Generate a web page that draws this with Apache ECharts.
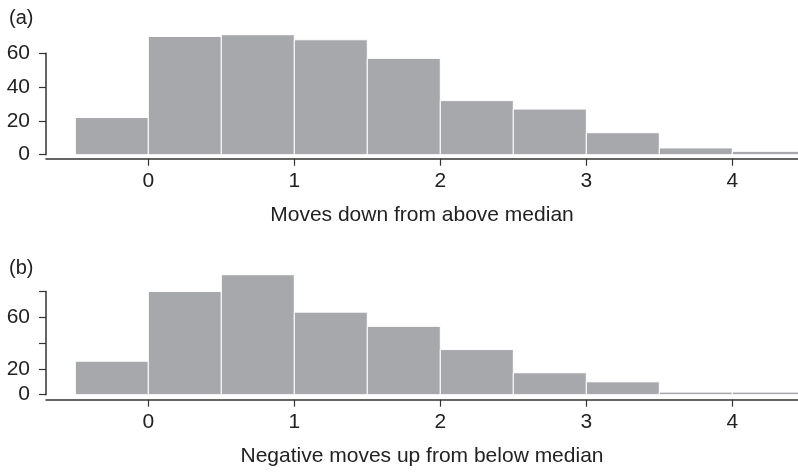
<!DOCTYPE html>
<html>
<head>
<meta charset="utf-8">
<script src="https://cdn.jsdelivr.net/npm/echarts@6/dist/echarts.min.js"></script>
<style>
  html, body { margin: 0; padding: 0; background: #fff; }
  #chart { width: 798px; height: 472px; }
</style>
</head>
<body>
<div id="chart"></div>
<script>
// histogram bins (left edges), width 0.5
const binStarts = [-0.5, 0, 0.5, 1, 1.5, 2, 2.5, 3, 3.5, 4];
const binWidth = 0.5;
// (a) moves down from above median
const countsA = [22, 70, 71, 68, 57, 32, 27, 13, 4, 2];
// (b) negative moves up from below median
const countsB = [26, 80, 93, 64, 53, 35, 17, 10, 2, 2];
const xTicks = [0, 1, 2, 3, 4];
const yLabelsA = [0, 20, 40, 60];
const yLabelsB = [0, 20, 60];

const FONT = "Liberation Sans, Arial, sans-serif";
const AXIS_COLOR = "#333";
const TEXT_COLOR = "#222";

const chart = echarts.init(document.getElementById("chart"));

function renderBin(params, api) {
  const x0 = api.value(0);
  const y = api.value(1);
  const p0 = api.coord([x0, y]);
  const p1 = api.coord([x0 + binWidth, 0]);
  return {
    type: "rect",
    shape: { x: p0[0], y: p0[1], width: p1[0] - p0[0], height: p1[1] - p0[1] },
    style: { fill: "#a7a8ac", stroke: "#ffffff", lineWidth: 1 },
  };
}

function xAxisFor(gridIndex, offset, name) {
  return {
    type: "value",
    gridIndex,
    min: -0.7007,
    max: 4.45,
    offset,
    splitLine: { show: false },
    axisLine: { show: true, onZero: false, lineStyle: { color: AXIS_COLOR, width: 1.5 } },
    axisTick: { show: true, customValues: xTicks, length: 7, lineStyle: { color: AXIS_COLOR, width: 1.2 } },
    axisLabel: { customValues: xTicks, margin: 12, color: TEXT_COLOR, fontSize: 21, fontFamily: FONT },
    name,
    nameLocation: "middle",
    nameGap: 46,
    nameTextStyle: { color: TEXT_COLOR, fontSize: 21, fontFamily: FONT },
  };
}

function yAxisFor(gridIndex, max, labels) {
  return {
    type: "value",
    gridIndex,
    min: 0,
    max,
    interval: 20,
    splitLine: { show: false },
    axisLine: { show: true, onZero: false, lineStyle: { color: AXIS_COLOR, width: 1.5 } },
    axisTick: { show: true, length: 7, lineStyle: { color: AXIS_COLOR, width: 1.2 } },
    axisLabel: { customValues: labels, margin: 16, color: TEXT_COLOR, fontSize: 21, fontFamily: FONT },
  };
}

chart.setOption({
  backgroundColor: "#fff",
  animation: false,
  title: [
    { text: "(a)", left: 4, top: 3, textStyle: { fontSize: 20, fontWeight: "normal", color: TEXT_COLOR, fontFamily: FONT } },
    { text: "(b)", left: 4, top: 253, textStyle: { fontSize: 20, fontWeight: "normal", color: TEXT_COLOR, fontFamily: FONT } },
  ],
  grid: [
    { left: 46, right: 0, top: 53.3, height: 101.4 },
    { left: 46, right: 0, top: 291.5, height: 103.2 },
  ],
  xAxis: [
    xAxisFor(0, 4, "Moves down from above median"),
    xAxisFor(1, 5, "Negative moves up from below median"),
  ],
  yAxis: [yAxisFor(0, 60, yLabelsA), yAxisFor(1, 80, yLabelsB)],
  series: [
    {
      type: "custom",
      xAxisIndex: 0,
      yAxisIndex: 0,
      clip: false,
      renderItem: renderBin,
      data: binStarts.map((x, i) => [x, countsA[i]]),
    },
    {
      type: "custom",
      xAxisIndex: 1,
      yAxisIndex: 1,
      clip: false,
      renderItem: renderBin,
      data: binStarts.map((x, i) => [x, countsB[i]]),
    },
  ],
});
</script>
</body>
</html>
